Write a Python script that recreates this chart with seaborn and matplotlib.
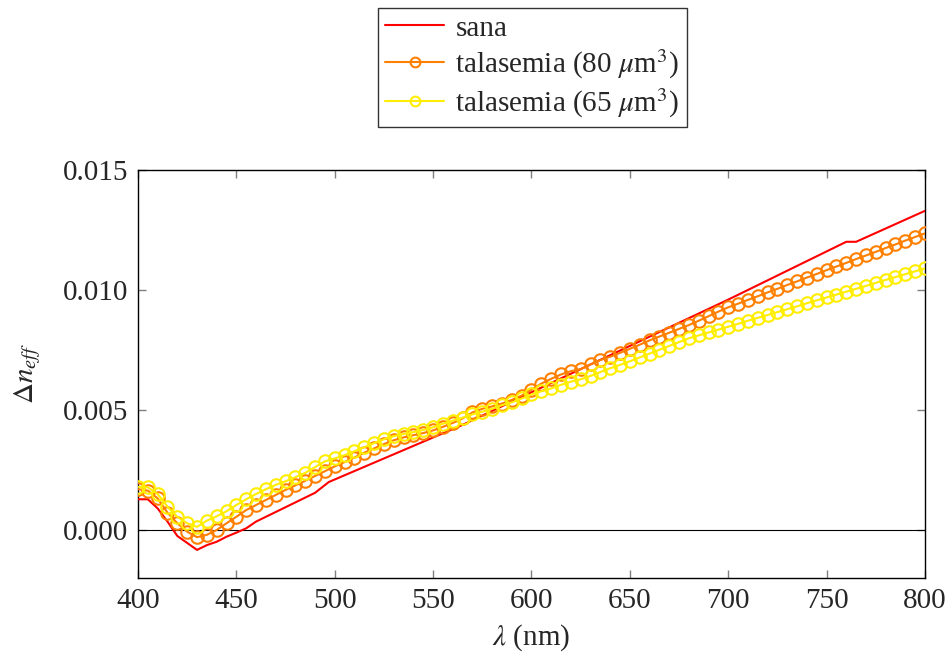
import numpy as np
import pandas as pd
import matplotlib
matplotlib.use("Agg")
import matplotlib.pyplot as plt
import seaborn as sns

# sana: polyline vertices
sana_nm = [400, 405, 410, 415, 420, 430, 435, 440, 445, 450, 455, 460,
           490, 497, 565, 600, 700, 760, 765, 800]
sana_dn = [0.00128, 0.00128, 0.00090, 0.00035, -0.00025, -0.00083, -0.00063,
           -0.00049, -0.00028, -0.00011, 0.00007, 0.00035, 0.00155, 0.00200,
           0.00438, 0.00574, 0.00960, 0.01201, 0.01201, 0.01330]

# talasemia series, every 5 nm
wl = list(range(400, 805, 5))
tal80 = [0.00170, 0.00164, 0.00132, 0.00072, 0.00028, -0.00007, -0.00030, -0.00020,
         0.00000, 0.00028, 0.00055, 0.00083, 0.00104, 0.00125, 0.00146, 0.00167,
         0.00186, 0.00205, 0.00225, 0.00245, 0.00265, 0.00283, 0.00302, 0.00322,
         0.00340, 0.00358, 0.00374, 0.00386, 0.00395, 0.00404, 0.00415, 0.00430,
         0.00446, 0.00465, 0.00490, 0.00505, 0.00515, 0.00527, 0.00542, 0.00560,
         0.00585, 0.00610, 0.00630, 0.00648, 0.00662, 0.00670, 0.00690, 0.00708,
         0.00722, 0.00738, 0.00755, 0.00772, 0.00790, 0.00806, 0.00822, 0.00838,
         0.00854, 0.00872, 0.00891, 0.00910, 0.00928, 0.00943, 0.00959, 0.00974,
         0.00990, 0.01005, 0.01021, 0.01036, 0.01052, 0.01067, 0.01083, 0.01098,
         0.01113, 0.01129, 0.01144, 0.01159, 0.01175, 0.01190, 0.01206, 0.01221,
         0.01236]
tal65 = [0.00180, 0.00178, 0.00150, 0.00097, 0.00055, 0.00028, 0.00013, 0.00039,
         0.00057, 0.00078, 0.00104, 0.00128, 0.00150, 0.00170, 0.00188, 0.00203,
         0.00220, 0.00238, 0.00262, 0.00286, 0.00298, 0.00312, 0.00328, 0.00345,
         0.00362, 0.00378, 0.00391, 0.00400, 0.00408, 0.00417, 0.00428, 0.00443,
         0.00456, 0.00468, 0.00482, 0.00493, 0.00505, 0.00520, 0.00532, 0.00548,
         0.00565, 0.00578, 0.00590, 0.00605, 0.00618, 0.00628, 0.00642, 0.00658,
         0.00674, 0.00688, 0.00703, 0.00719, 0.00735, 0.00751, 0.00767, 0.00783,
         0.00799, 0.00811, 0.00823, 0.00835, 0.00847, 0.00859, 0.00872, 0.00884,
         0.00896, 0.00908, 0.00920, 0.00932, 0.00945, 0.00957, 0.00969, 0.00981,
         0.00993, 0.01005, 0.01017, 0.01030, 0.01042, 0.01054, 0.01066, 0.01078,
         0.01090]

x_ticks = [400, 450, 500, 550, 600, 650, 700, 750, 800]
y_ticks = [0.000, 0.005, 0.010, 0.015]

sns.set_style("ticks")
plt.rcParams['font.family'] = ['Liberation Serif', 'DejaVu Serif']
plt.rcParams['mathtext.fontset'] = 'stix'

fig = plt.figure(figsize=(9.49, 6.58), dpi=100)
ax = fig.add_axes([0.1454, 0.1216, 0.8293, 0.62])

ax.axhline(0, color='black', lw=0.8, zorder=1)

sns.lineplot(x=sana_nm, y=sana_dn, ax=ax, color='#ff0000', lw=1.5,
             label='sana', zorder=3)
sns.lineplot(x=wl, y=tal80, ax=ax, color='#ff8000', lw=1.5, marker='o',
             markersize=9, markerfacecolor='none', markeredgecolor='#ff8000',
             markeredgewidth=1.5, label=r'talasemia (80 $\mu$m$^3$)', zorder=4)
sns.lineplot(x=wl, y=tal65, ax=ax, color='#ffee00', lw=1.5, marker='o',
             markersize=9, markerfacecolor='none', markeredgecolor='#ffee00',
             markeredgewidth=1.5, label=r'talasemia (65 $\mu$m$^3$)', zorder=5)

ax.set_xlim(400, 800)
ax.set_ylim(-0.002, 0.015)
ax.set_xticks(x_ticks)
ax.set_yticks(y_ticks)
ax.set_yticklabels(['%.3f' % v for v in y_ticks])
ax.tick_params(direction='in', length=6, width=1, color='#808080',
               top=True, right=True, labelsize=21, pad=7)
for s in ax.spines.values():
    s.set_color('black')
    s.set_linewidth(1)

ax.set_xlabel(r'$\lambda$ (nm)', fontsize=21, labelpad=6)
ax.set_ylabel(r'$\Delta n_{eff}$', fontsize=21, labelpad=14)

h, l = ax.get_legend_handles_labels()
ax.get_legend().remove()
leg = fig.legend(h, l, loc='upper center', bbox_to_anchor=(0.561, 0.988),
                 fontsize=21, frameon=True, fancybox=False, edgecolor='black',
                 handlelength=2.0, borderpad=0.25, labelspacing=0.2,
                 handletextpad=0.4, borderaxespad=0)
leg.get_frame().set_linewidth(1)
for lh in leg.get_lines():
    lh.set_markersize(7)

fig.savefig('out.png', dpi=100)
